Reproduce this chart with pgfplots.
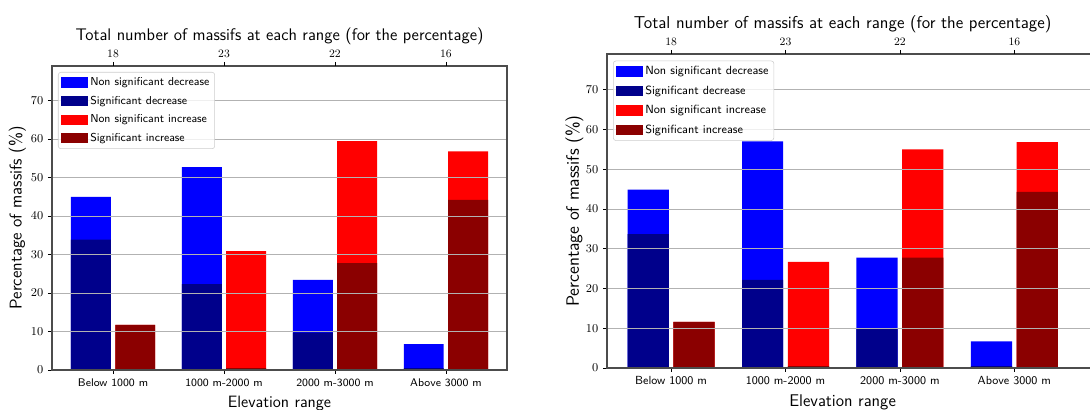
\documentclass[border=0pt]{standalone}
\usepackage{pgfplots}
\pgfplotsset{compat=1.18}
\definecolor{nsd}{RGB}{0,0,255}
\definecolor{sd}{RGB}{0,0,139}
\definecolor{nsi}{RGB}{255,0,0}
\definecolor{si}{RGB}{139,0,0}
\newcommand{\fs}[1]{\fontsize{#1}{#1}\selectfont}
\pgfplotsset{
  panel/.style={
    scale only axis, anchor=south west,
    ymin=0, ymax=79, ytick={0,10,...,70},
    xtick={0,1,2,3},
    xticklabels={Below 1000 m, 1000 m-2000 m, 2000 m-3000 m, Above 3000 m},
    xtick pos=left, ytick pos=left,
    tick align=outside, major tick length=3pt,
    ymajorgrids, grid style={black!30, line width=0.7pt},
    axis line style={black!70, line width=0.9pt},
    tick style={black, line width=0.6pt},
    axis on top,
    legend cell align=left,
    legend image code/.code={\draw[#1, draw=none, fill opacity=1, sharp corners] (0pt,-3.9pt) rectangle (20pt,3.9pt);},
  },
  toppanel/.style={
    scale only axis, anchor=south west,
    ymin=0, ymax=79, hide y axis,
    xtick={0,1,2,3}, xticklabels={18,23,22,16},
    xtick pos=right, xticklabel pos=right,
    tick align=outside, major tick length=3pt,
    axis line style={draw=none},
    tick style={black, line width=0.6pt},
  },
  bars/.style={ybar, bar width=0.36, bar shift=0pt, draw=none},
}
\begin{document}
\begin{tikzpicture}
\useasboundingbox (0,0) rectangle (817.5pt,307.5pt);
\clip (0,0) rectangle (817.5pt,307.5pt);
% ---------------- left panel ----------------
\begin{axis}[panel, at={(39pt,30pt)}, width=341.25pt, height=228pt,
  xmin=-0.55, xmax=3.55,
  xticklabel style={font=\sffamily\fs{8.3}},
  yticklabel style={font=\fs{9}},
  xlabel={Elevation range}, ylabel={Percentage of massifs (\%)},
  xlabel style={font=\sffamily\fs{12.3}},
  ylabel style={font=\sffamily\fs{12.8}, yshift=-3pt},
  legend style={at={(0,1)}, anchor=north west, xshift=4.5pt, yshift=-4.5pt,
    draw=black!20, rounded corners=2pt, fill=white, fill opacity=0.8, text opacity=1,
    font=\sffamily\fs{8.6}, row sep=2.3pt, inner sep=2pt},
]
\addplot[bars, fill=nsd] coordinates {(-0.2,45.0) (0.8,52.7) (1.8,23.4) (2.8,6.7)};
\addplot[bars, fill=sd]  coordinates {(-0.2,33.9) (0.8,22.3) (1.8,9.7) (2.8,0.5)};
\addplot[bars, fill=nsi] coordinates {(0.2,11.7) (1.2,30.9) (2.2,59.5) (3.2,56.8)};
\addplot[bars, fill=si]  coordinates {(0.2,11.7) (1.2,0.5) (2.2,27.8) (3.2,44.2)};
\legend{Non significant decrease, Significant decrease, Non significant increase, Significant increase}
\end{axis}
\begin{axis}[toppanel, at={(39pt,30pt)}, width=341.25pt, height=228pt,
  xmin=-0.55, xmax=3.55,
  xticklabel style={font=\fs{8.5}},
  xlabel={Total number of massifs at each range (for the percentage)},
  xlabel style={font=\sffamily\fs{12.6}, yshift=-3pt},
]
\end{axis}
% ---------------- right panel ----------------
\begin{axis}[panel, at={(455.25pt,31.5pt)}, width=369.9pt, height=235.5pt,
  xmin=-0.56, xmax=3.75,
  xticklabel style={font=\sffamily\fs{8.8}},
  yticklabel style={font=\fs{9.5}},
  xlabel={Elevation range}, ylabel={Percentage of massifs (\%)},
  xlabel style={font=\sffamily\fs{12.7}, xshift=-8.25pt},
  ylabel style={font=\sffamily\fs{13.4}, yshift=-5pt},
  legend style={at={(0,1)}, anchor=north west, xshift=4.5pt, yshift=-5pt,
    draw=black!20, rounded corners=2pt, fill=white, fill opacity=0.8, text opacity=1,
    font=\sffamily\fs{8.9}, row sep=2.8pt, inner sep=2pt},
]
\addplot[bars, fill=nsd] coordinates {(-0.2,44.9) (0.8,57.0) (1.8,27.8) (2.8,6.7)};
\addplot[bars, fill=sd]  coordinates {(-0.2,33.7) (0.8,22.2) (1.8,9.9) (2.8,0.5)};
\addplot[bars, fill=nsi] coordinates {(0.2,11.6) (1.2,26.7) (2.2,55.0) (3.2,56.8)};
\addplot[bars, fill=si]  coordinates {(0.2,11.6) (1.2,0.5) (2.2,27.8) (3.2,44.3)};
\legend{Non significant decrease, Significant decrease, Non significant increase, Significant increase}
\end{axis}
\begin{axis}[toppanel, at={(455.25pt,31.5pt)}, width=369.9pt, height=235.5pt,
  xmin=-0.56, xmax=3.75,
  xticklabel style={font=\fs{8.5}},
  xlabel={Total number of massifs at each range (for the percentage)},
  xlabel style={font=\sffamily\fs{12.9}, xshift=-8.25pt, yshift=-3.5pt},
]
\end{axis}
\end{tikzpicture}
\end{document}
